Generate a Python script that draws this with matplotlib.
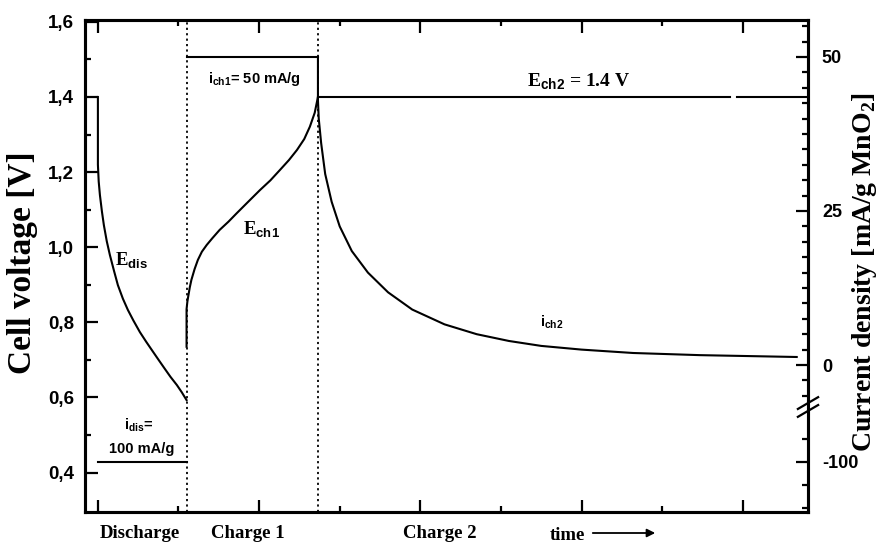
import numpy as np
import matplotlib
matplotlib.use("Agg")
import matplotlib.pyplot as plt
from matplotlib.ticker import FixedLocator, FuncFormatter, NullFormatter

plt.rcParams["mathtext.fontset"] = "custom"
plt.rcParams["mathtext.rm"] = "Liberation Serif:bold"
plt.rcParams["mathtext.sf"] = "Liberation Sans:bold"

SANS = "Liberation Sans"
SERIF = "Liberation Serif"

# time in arbitrary units (major ticks every 2)
t_dis_end = 1.1
t_ch1_end = 2.73

# discharge voltage
t_edis = [0, 0, 0.01, 0.025, 0.05, 0.074, 0.11, 0.149, 0.2, 0.248, 0.31, 0.372, 0.44,
          0.521, 0.6, 0.67, 0.75, 0.831, 0.9, 0.98, 1.04, 1.1]
v_edis = [1.40, 1.22, 1.175, 1.139, 1.095, 1.059, 1.016, 0.979, 0.937, 0.899, 0.863, 0.833,
          0.805, 0.774, 0.748, 0.726, 0.701, 0.676, 0.655, 0.633, 0.614, 0.593]

# charge 1 voltage
t_ech1 = [1.1, 1.1, 1.11, 1.12, 1.14, 1.16, 1.2, 1.24, 1.29, 1.35, 1.42, 1.51, 1.62, 1.72,
          1.86, 2.01, 2.14, 2.26, 2.37, 2.47, 2.56, 2.63, 2.69, 2.73]
v_ech1 = [0.735, 0.835, 0.855, 0.868, 0.893, 0.913, 0.942, 0.966, 0.988, 1.006, 1.024, 1.046,
          1.068, 1.09, 1.12, 1.152, 1.178, 1.206, 1.232, 1.259, 1.288, 1.321, 1.358, 1.40]

# charge 2 voltage (held at 1.4 V)
t_ech2 = [2.73, 7.84, np.nan, 7.93, 8.81]
v_ech2 = [1.40, 1.40, np.nan, 1.40, 1.40]

# currents in mA/g
t_idis = [0, 1.1]
i_dis = [-100, -100]

t_ich1 = [1.1, 2.73]
i_ch1 = [50, 50]

t_ich2 = [2.73, 2.73, 2.74, 2.77, 2.82, 2.9, 3.0, 3.15, 3.35, 3.6, 3.9, 4.3, 4.7, 5.1, 5.5,
          6.0, 6.64, 7.47, 8.67]
i_ch2 = [50, 43, 40, 36, 31, 26.5, 22.5, 18.5, 15, 11.8, 9.0, 6.6, 5.0, 3.9, 3.1, 2.5, 1.95,
         1.6, 1.3]

phase_labels = ["Discharge", "Charge 1", "Charge 2"]
volt_ticks = [0.4, 0.6, 0.8, 1.0, 1.2, 1.4, 1.6]
cur_ticks = [-100, 0, 25, 50]
cur_minor = [-150, -125, -75, -5, -2.5] + [v for v in np.arange(2.5, 56, 2.5) if v % 25]


# broken current axis: linear down to -6, a gap, then compressed below -40
def fwd(i):
    i = np.asarray(i, dtype=float)
    return np.where(i >= -6, i,
                    np.where(i >= -40, -6 + (i + 6) * (0.8 / 34), -6.8 + (i + 40) * 0.149))


def inv(v):
    v = np.asarray(v, dtype=float)
    return np.where(v >= -6, v,
                    np.where(v >= -6.8, -6 + (v + 6) * (34 / 0.8), -40 + (v + 6.8) / 0.149))


fig = plt.figure(figsize=(8.8, 5.51), dpi=100)
ax = fig.add_axes([85 / 880, 1 - 512 / 551, 723 / 880, 492 / 551])

ax.plot(t_edis, v_edis, color="black", lw=1.5)
ax.plot(t_ech1, v_ech1, color="black", lw=1.5)
ax.plot(t_ech2, v_ech2, color="black", lw=1.5)
for t in (t_dis_end, t_ch1_end):
    ax.axvline(t, color="black", lw=1.3, ls=(0, (1.2, 1.8)))

ax.set_xlim(-0.16, 8.81)
ax.set_ylim(0.295, 1.605)

ax.xaxis.set_major_locator(FixedLocator([0, 2, 4, 6, 8]))
ax.xaxis.set_minor_locator(FixedLocator([1, 3, 5, 7]))
ax.xaxis.set_major_formatter(NullFormatter())
ax.yaxis.set_major_locator(FixedLocator(volt_ticks))
ax.yaxis.set_minor_locator(FixedLocator([0.5, 0.7, 0.9, 1.1, 1.3, 1.5]))
ax.yaxis.set_major_formatter(FuncFormatter(lambda v, p: f"{v:.1f}".replace(".", ",")))
ax.tick_params(which="both", direction="in", width=1.6, top=True, right=False)
ax.tick_params(which="major", length=9)
ax.tick_params(which="minor", length=4.5)
ax.tick_params(axis="y", pad=8, labelsize=13.5)
for lbl in ax.get_yticklabels():
    lbl.set_fontfamily(SANS)
    lbl.set_fontweight("bold")
for sp in ax.spines.values():
    sp.set_linewidth(2.2)

fig.text(23 / 880, 1 - 263 / 551, "Cell voltage [V]", family=SERIF, weight="bold",
         fontsize=24, rotation=90, ha="center", va="center")

# current axis
ax2 = ax.twinx()
ax2.set_yscale("function", functions=(fwd, inv))
ax2.plot(t_idis, i_dis, color="black", lw=1.5)
ax2.plot(t_ich1, i_ch1, color="black", lw=1.5)
ax2.plot(t_ich2, i_ch2, color="black", lw=1.5)
ax2.set_ylim(float(inv(-23.86)), 56.0)
ax2.yaxis.set_major_locator(FixedLocator(cur_ticks))
ax2.yaxis.set_minor_locator(FixedLocator(cur_minor))
ax2.yaxis.set_major_formatter(FuncFormatter(lambda v, p: f"{v:g}"))
ax2.tick_params(which="both", direction="in", width=1.6)
ax2.tick_params(which="major", length=9, pad=10, labelsize=13)
ax2.tick_params(which="minor", length=4.5)
for lbl in ax2.get_yticklabels():
    lbl.set_fontfamily(SANS)
    lbl.set_fontweight("bold")
for sp in ax2.spines.values():
    sp.set_linewidth(2.2)
fig.text(864 / 880, 1 - 272 / 551, "Current density [mA/g MnO$_{\\mathrm{2}}$]", family=SERIF,
         weight="bold", fontsize=20, rotation=90, ha="center", va="center")

# axis break marks on the current axis
yb = 105 / 492
for dy in (-0.008, 0.008):
    ax.plot([1 - 0.014, 1 + 0.014], [yb + dy - 0.012, yb + dy + 0.012], color="black",
            lw=1.6, transform=ax.transAxes, clip_on=False)

# curve annotations
ax.text(0.21, 0.963, "E$_{\\mathsf{dis}}$", family=SERIF, weight="bold", fontsize=13.5, va="center")
ax.text(1.8, 1.046, "E$_{\\mathsf{ch1}}$", family=SERIF, weight="bold", fontsize=13.5, va="center")
ax.text(5.32, 1.44, "E$_{\\mathsf{ch2}}$ = 1.4 V", family=SERIF, weight="bold", fontsize=14, va="center")
ax.text(1.36, 1.448, "i$_{\\mathsf{ch1}}$= 50 mA/g", family=SANS, weight="bold", fontsize=10.5, va="center")
ax.text(5.48, 0.801, "i$_{\\mathsf{ch2}}$", family=SANS, weight="bold", fontsize=10.5, va="center")
ax.text(0.33, 0.526, "i$_{\\mathsf{dis}}$=", family=SANS, weight="bold", fontsize=10.5, va="center")
ax.text(0.54, 0.463, "100 mA/g", family=SANS, weight="bold", fontsize=10.5, va="center", ha="center")

# phase labels below the axis
for x, s in zip([140, 248, 440], phase_labels):
    fig.text(x / 880, 1 - 533 / 551, s, family=SERIF, weight="bold", fontsize=13.5,
             ha="center", va="center")
fig.text(567 / 880, 1 - 535 / 551, "time", family=SERIF, weight="bold", fontsize=13.5,
         ha="center", va="center")
ax.annotate("", xy=(658, 551 - 533), xytext=(590, 551 - 533), xycoords="figure pixels",
            textcoords="figure pixels",
            arrowprops=dict(arrowstyle="-|>", color="black", lw=1.3, mutation_scale=12))

fig.savefig("out.png", dpi=100)
